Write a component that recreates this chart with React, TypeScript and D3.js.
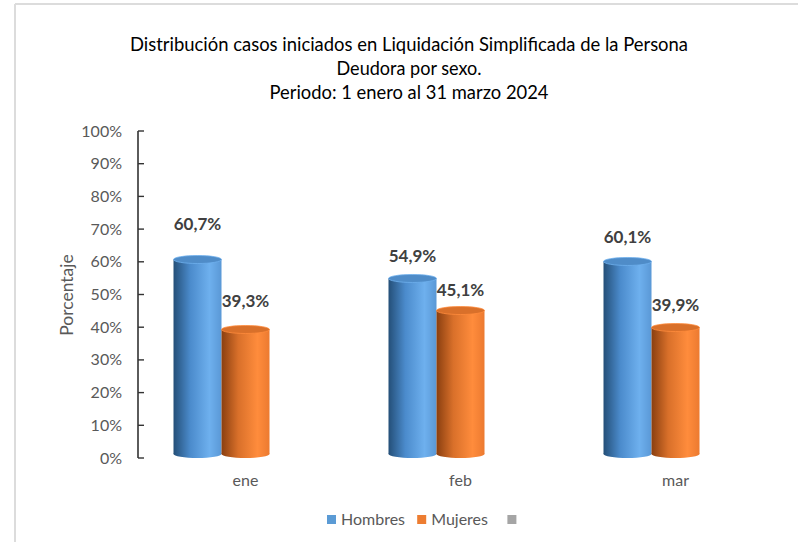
import React from "react";
import * as d3 from "d3";

const categories = ["ene", "feb", "mar"];
const seriesNames = ["Hombres", "Mujeres"];
const hombres = [60.7, 54.9, 60.1];
const mujeres = [39.3, 45.1, 39.9];
const yTicks = [0, 10, 20, 30, 40, 50, 60, 70, 80, 90, 100];
const titleLines = [
  "Distribución casos iniciados en Liquidación Simplificada de la Persona",
  "Deudora por sexo.",
  "Periodo: 1 enero al 31 marzo 2024",
];
const legendItems = ["Hombres", "Mujeres", ""];

const W = 798;
const H = 542;
const FONT = "Lato, 'Open Sans', sans-serif";
const titleWidths = [558, 145, 279];
const colors: Record<string, { dark: string; mid: string; light: string; edge: string; top: string; legend: string }> = {
  Hombres: { dark: "#244f78", mid: "#4b8bcc", light: "#6eb0ee", edge: "#5a98d6", top: "#4f8cc8", legend: "#5b9bd5" },
  Mujeres: { dark: "#8a3f10", mid: "#d9702a", light: "#ff8c3c", edge: "#ec7a30", top: "#d9702a", legend: "#ed7d31" },
};
// extra lift of value labels (style)
const labelLift = [[30, 22], [16, 15], [18, 17]];

export default function App() {
  const y = d3.scaleLinear().domain([0, 100]).range([458, 131]);
  const x = d3.scaleBand<string>().domain(categories).range([138, 783]);
  const sub = d3.scaleBand<string>().domain(seriesNames).range([-72, 24]);
  const bw = sub.bandwidth();
  const ry = 4;
  const series = [hombres, mujeres];
  const fmt = (v: number) => v.toFixed(1).replace(".", ",") + "%";

  return (
    <svg width={W} height={H} style={{ position: "absolute", left: 0, top: 0, background: "#fff" }}>
      <defs>
        {seriesNames.map((s) => (
          <linearGradient key={s} id={"g" + s} x1="0" x2="1" y1="0" y2="0">
            <stop offset="0" stopColor={colors[s].dark} />
            <stop offset="0.35" stopColor={colors[s].mid} />
            <stop offset="0.75" stopColor={colors[s].light} />
            <stop offset="1" stopColor={colors[s].edge} />
          </linearGradient>
        ))}
      </defs>
      <rect x={0} y={0} width={W} height={H} fill="#fff" />
      <line x1={15} y1={4} x2={W} y2={4} stroke="#dcdcdc" strokeWidth={2} />
      <line x1={15} y1={4} x2={15} y2={H} stroke="#dcdcdc" strokeWidth={2} />

      {titleLines.map((t, i) => (
        <text
          key={i}
          x={409}
          y={51 + i * 24}
          textAnchor="middle"
          fontFamily={FONT}
          fontSize={18.5}
          fill="#000"
          textLength={titleWidths[i]}
          lengthAdjust="spacingAndGlyphs"
        >
          {t}
        </text>
      ))}

      <line x1={138} y1={y(100)} x2={138} y2={y(0)} stroke="#333" strokeWidth={1.6} />
      {yTicks.map((t) => (
        <g key={t}>
          <line x1={138} x2={144} y1={y(t)} y2={y(t)} stroke="#333" strokeWidth={1.4} />
          <text x={122} y={y(t) + 5.5} textAnchor="end" fontFamily={FONT} fontSize={16} fill="#595959">
            {t}%
          </text>
        </g>
      ))}
      <text
        transform={`translate(73,${295}) rotate(-90)`}
        textAnchor="middle"
        fontFamily={FONT}
        fontSize={17.5}
        fill="#595959"
      >
        Porcentaje
      </text>

      {categories.map((c, ci) => {
        const cx = (x(c) as number) + x.bandwidth() / 2;
        return (
          <g key={c}>
            {seriesNames.map((s, si) => {
              const v = series[si][ci];
              const x0 = cx + (sub(s) as number);
              const top = y(v);
              const bottom = y(0) - ry;
              return (
                <g key={s}>
                  <rect x={x0} y={top} width={bw} height={bottom - top} fill={`url(#g${s})`} />
                  <ellipse cx={x0 + bw / 2} cy={bottom} rx={bw / 2} ry={ry} fill={`url(#g${s})`} />
                  <ellipse cx={x0 + bw / 2} cy={top} rx={bw / 2} ry={ry} fill={colors[s].top} stroke={colors[s].light} strokeWidth={0.8} />
                  <text
                    x={x0 + bw / 2}
                    y={top - labelLift[ci][si]}
                    textAnchor="middle"
                    fontFamily={FONT}
                    fontWeight="bold"
                    fontSize={17}
                    fill="#404040"
                  >
                    {fmt(v)}
                  </text>
                </g>
              );
            })}
            <text x={cx} y={486} textAnchor="middle" fontFamily={FONT} fontSize={16} fill="#595959">
              {c}
            </text>
          </g>
        );
      })}

      {(() => {
        let lx = 327;
        return legendItems.map((name, i) => {
          const fill = i < 2 ? colors[seriesNames[i]].legend : "#a5a5a5";
          const gx = lx;
          const w = name ? name.length * 8.6 : 0;
          lx += 9 + 5 + w + 16;
          return (
            <g key={i}>
              <rect x={gx} y={515} width={9} height={9} fill={fill} />
              {name && (
                <text x={gx + 14} y={525} fontFamily={FONT} fontSize={16} fill="#595959">
                  {name}
                </text>
              )}
            </g>
          );
        });
      })()}
    </svg>
  );
}
